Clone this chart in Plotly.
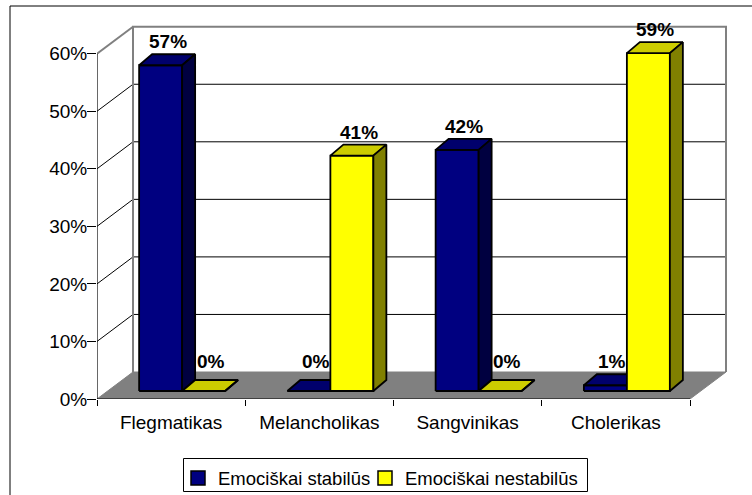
import plotly.graph_objects as go

# ---------------- data ----------------
categories = ["Flegmatikas", "Melancholikas", "Sangvinikas", "Cholerikas"]
series_names = ["Emociškai stabilūs", "Emociškai nestabilūs"]
stable = [56.6, 0.0, 41.9, 1.0]
unstable = [0.0, 40.9, 0.0, 58.7]
y_ticks = [0, 10, 20, 30, 40, 50, 60]
y_tick_labels = ["0%", "10%", "20%", "30%", "40%", "50%", "60%"]

series_values = [stable, unstable]

# ---------------- styling / geometry ----------------
W, H = 752, 495
ML, MB, MR, MT = 97, 96, 5, 5
PLOT_W = W - ML - MR
PLOT_H = H - MB - MT
PX_X = 148.25          # px per category unit
PX_Y = 5.755           # px per percent
XMAX = PLOT_W / PX_X
YMAX = PLOT_H / PX_Y
NCAT = len(categories)
YTOP = y_ticks[-1]

# wall depth (oblique offset)
WDX, WDY = 36 / PX_X, 27 / PX_Y
# bar front plane offset and bar depth
BX0, BY0 = 11 / PX_X, 8 / PX_Y
BDX, BDY = 13 / PX_X, 11 / PX_Y
BAR_W = 0.29
GROUP_OFF = 0.21

front_colors = ["#000080", "#FFFF00"]
top_colors = ["#00006C", "#CCCC00"]
side_colors = ["#000040", "#808000"]
FONT = "Arial, Liberation Sans, sans-serif"
FS = 19
FS_LEG = 18.5

fig = go.Figure()


def poly(xs, ys, fill, line_color="black", width=1.8):
    fig.add_trace(go.Scatter(
        x=xs + [xs[0]], y=ys + [ys[0]], mode="lines", fill="toself",
        fillcolor=fill, line=dict(color=line_color, width=width),
        hoverinfo="skip", showlegend=False))


def seg(x0, y0, x1, y1, color, width):
    fig.add_trace(go.Scatter(
        x=[x0, x1], y=[y0, y1], mode="lines",
        line=dict(color=color, width=width),
        hoverinfo="skip", showlegend=False))


# floor
poly([0, NCAT, NCAT + WDX, WDX], [0, 0, WDY, WDY], "#808080", "#808080", 1)
# back wall gridlines and side-wall diagonals
for v in y_ticks[1:-1]:
    seg(WDX, v + WDY, NCAT + WDX, v + WDY, "black", 1)
    seg(0, v, WDX, v + WDY, "black", 1)
# wall borders (gray)
fig.add_trace(go.Scatter(
    x=[WDX, WDX, NCAT + WDX, NCAT + WDX],
    y=[WDY, YTOP + WDY, YTOP + WDY, WDY], mode="lines",
    line=dict(color="#808080", width=2), hoverinfo="skip", showlegend=False))
seg(0, YTOP, WDX, YTOP + WDY, "#808080", 2)
# front axes lines
seg(0, 0, 0, YTOP, "black", 1.2)
seg(0, 0, NCAT, 0, "black", 1.2)

# bars
annotations = []
for i in range(NCAT):
    for s, vals in enumerate(series_values):
        v = vals[i]
        x0 = i + GROUP_OFF + s * BAR_W + BX0
        x1 = x0 + BAR_W
        y0 = BY0
        y1 = BY0 + v
        poly([x0, x1, x1, x0], [y0, y0, y1, y1], front_colors[s])
        poly([x0, x1, x1 + BDX, x0 + BDX], [y1, y1, y1 + BDY, y1 + BDY], top_colors[s])
        poly([x1, x1 + BDX, x1 + BDX, x1], [y0, y0 + BDY, y1 + BDY, y1], side_colors[s])
        annotations.append(dict(
            x=(x0 + x1) / 2 + 7.0 / PX_X, y=max(v, 1.0) + BY0 + BDY,
            xref="x", yref="y", text=f"{round(v):d}%", showarrow=False,
            yanchor="bottom", xanchor="center", yshift=0,
            font=dict(family=FONT, size=FS, color="black", weight="bold")))


def px_to_paper_x(px):
    return (px - ML) / PLOT_W


def py_to_paper_y(py):
    return (H - MB - py) / PLOT_H


# legend entries (one legend per entry, framed by a common box)
legend_ids = ["legend", "legend2"]
legend_left_px = [178, 365]
for s, name in enumerate(series_names):
    fig.add_trace(go.Scatter(
        x=[None], y=[None], mode="markers", name=name, legend=legend_ids[s],
        marker=dict(symbol="square", size=14, color=front_colors[s],
                    line=dict(color="black", width=1.5))))

legend_common = dict(orientation="h", y=py_to_paper_y(459.5), xanchor="left",
                     yanchor="top", borderwidth=0, bgcolor="rgba(0,0,0,0)",
                     font=dict(family=FONT, size=FS_LEG, color="black"))

fig.update_layout(
    width=W, height=H,
    margin=dict(l=ML, r=MR, t=MT, b=MB, autoexpand=False),
    paper_bgcolor="white", plot_bgcolor="white",
    font=dict(family=FONT, size=FS, color="black"),
    annotations=annotations,
    xaxis=dict(range=[0, XMAX], showgrid=False, zeroline=False, showline=False,
               tickvals=[i + 0.5 for i in range(NCAT)], ticktext=categories,
               ticks="outside", ticklen=0, ticklabelstandoff=6,
               tickfont=dict(family=FONT, size=FS, color="black"),
               minor=dict(tickvals=list(range(NCAT + 1)), ticks="outside",
                          ticklen=6, tickcolor="black", tickwidth=1, showgrid=False),
               fixedrange=True),
    yaxis=dict(range=[0, YMAX], showgrid=False, zeroline=False, showline=False,
               tickvals=y_ticks, ticktext=y_tick_labels, ticks="outside",
               ticklen=9, tickcolor="black", tickwidth=1, ticklabelstandoff=-4,
               tickfont=dict(family=FONT, size=FS, color="black"),
               fixedrange=True),
    legend=dict(x=px_to_paper_x(legend_left_px[0]), **legend_common),
    legend2=dict(x=px_to_paper_x(legend_left_px[1]), **legend_common),
    shapes=[
        dict(type="rect", xref="paper", yref="paper",
             x0=px_to_paper_x(10), x1=px_to_paper_x(770),
             y0=py_to_paper_y(520), y1=py_to_paper_y(6),
             line=dict(color="black", width=1), fillcolor="rgba(0,0,0,0)",
             layer="below"),
        dict(type="rect", xref="paper", yref="paper",
             x0=px_to_paper_x(183.5), x1=px_to_paper_x(587.5),
             y0=py_to_paper_y(491.5), y1=py_to_paper_y(458.5),
             line=dict(color="black", width=1), fillcolor="white",
             layer="below"),
    ],
    showlegend=True,
)

fig.write_html("out.html", config={"displayModeBar": False},
               post_script="document.body.style.margin='0';document.body.style.overflow='hidden';")
